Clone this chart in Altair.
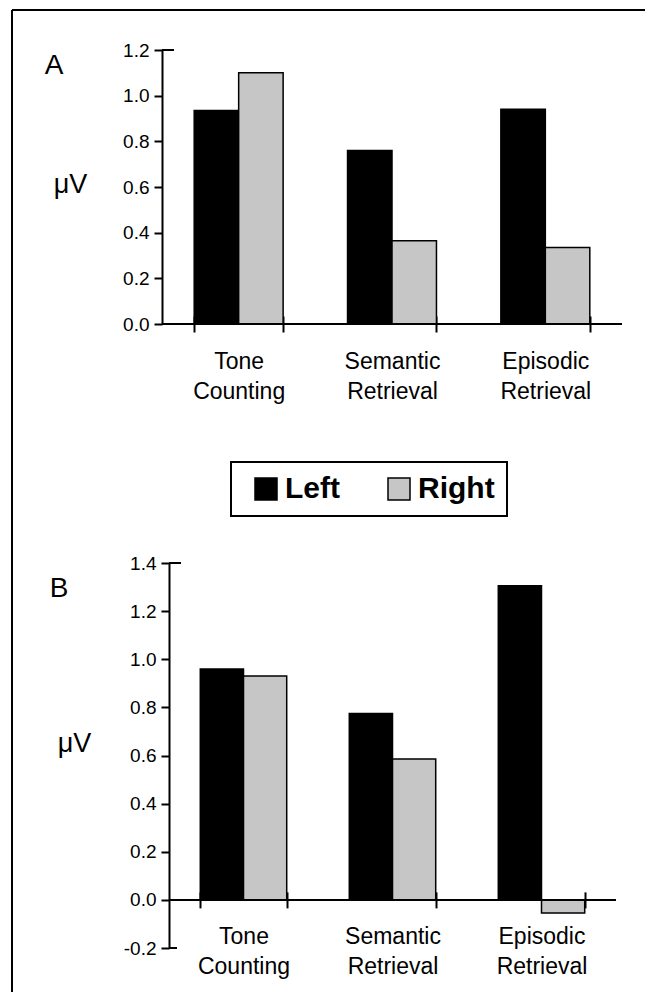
import altair as alt
import pandas as pd

# ---- data ----
categories = ["Tone Counting", "Semantic Retrieval", "Episodic Retrieval"]
sides = ["Left", "Right"]
a_left = [0.935, 0.76, 0.94]
a_right = [1.10, 0.365, 0.335]
b_left = [0.96, 0.775, 1.305]
b_right = [0.93, 0.585, -0.055]
a_ticks = [0.0, 0.2, 0.4, 0.6, 0.8, 1.0, 1.2]
b_ticks = [-0.2, 0.0, 0.2, 0.4, 0.6, 0.8, 1.0, 1.2, 1.4]
panel_letters = ["A", "B"]
y_unit = "\u03bcV"


def frame(left, right):
    rows = []
    for c, l, r in zip(categories, left, right):
        rows.append({"cat": c, "side": sides[0], "value": l})
        rows.append({"cat": c, "side": sides[1], "value": r})
    return pd.DataFrame(rows)


W, H = 637, 984
FONT = "Liberation Sans"
one = pd.DataFrame({"d": [0]})

legend = alt.Legend(
    title=None, orient="none", legendX=223, legendY=454, direction="horizontal",
    symbolType="square", symbolSize=484, symbolStrokeColor="black", symbolStrokeWidth=1.5,
    symbolOffset=8, labelFont=FONT, labelFontSize=30, labelFontWeight="bold",
    labelColor="black", labelOffset=4, columnPadding=36, padding=12, strokeColor="black",
)
color = alt.Color("side:N", scale=alt.Scale(domain=sides, range=["#000000", "#c6c6c6"]),
                  legend=legend)


def panel(df, x0, x1, y_top, y_bot, dom, ticks, title_x, title_y, extra_ticks):
    zero_y = y_bot - (0 - dom[0]) / (dom[1] - dom[0]) * (y_bot - y_top)
    x = alt.X(
        "cat:N", sort=categories,
        scale=alt.Scale(range=[x0, x1], paddingInner=0.42, paddingOuter=0.21),
        axis=alt.Axis(orient="bottom", offset=(zero_y - 8) - H, domain=False,
                      tickBand="extent", tickSize=16, tickWidth=2, tickColor="black",
                      labelExpr="split(datum.label, ' ')", labelFont=FONT, labelFontSize=23,
                      labelLineHeight=30, labelPadding=18, labelColor="black", labelAngle=0,
                      labelOverlap=False, title=None),
    )
    y = alt.Y(
        "value:Q",
        scale=alt.Scale(domain=dom, range=[y_bot, y_top], nice=False, zero=False),
        axis=alt.Axis(orient="left", offset=-x0, values=ticks,
                      labelExpr="replace(format(datum.value, '.1f'), '\u2212', '-')",
                      tickSize=8, tickWidth=2, tickColor="black", domainWidth=2,
                      domainColor="black", labelFont=FONT, labelFontSize=19,
                      labelColor="black", labelPadding=5, grid=False,
                      title=y_unit, titleAngle=0, titleFont=FONT, titleFontSize=27,
                      titleFontWeight="normal", titleColor="black", titleX=title_x,
                      titleY=title_y, titleAlign="center", titleBaseline="middle"),
    )
    bars = alt.Chart(df).mark_bar(stroke="black", strokeWidth=1.5).encode(
        x=x, y=y, color=color, xOffset=alt.XOffset("side:N", sort=sides)
    )
    layers = [bars]
    layers.append(
        alt.Chart(one).mark_rule(color="black", strokeWidth=2).encode(
            y=alt.datum(0), x=alt.value(x0), x2=alt.value(x1)
        )
    )
    for v, a, b in extra_ticks:
        layers.append(
            alt.Chart(one).mark_rule(color="black", strokeWidth=2).encode(
                y=alt.datum(v), x=alt.value(a), x2=alt.value(b)
            )
        )
    return alt.layer(*layers)


panel_a = panel(frame(a_left, a_right), 154, 614, 42, 316, [0.0, 1.2], a_ticks,
                -92, 176, [(1.2, 154, 166)])
panel_b = panel(frame(b_left, b_right), 161, 608, 555, 940, [-0.2, 1.4], b_ticks,
                -95, 735, [(1.4, 161, 173), (-0.2, 161, 169)])

border_top = alt.Chart(one).mark_rule(color="black", strokeWidth=2).encode(
    x=alt.value(4), x2=alt.value(W), y=alt.value(2)
)
border_left = alt.Chart(one).mark_rule(color="black", strokeWidth=2).encode(
    x=alt.value(4), y=alt.value(2), y2=alt.value(H)
)
letter_a = alt.Chart(one).mark_text(text=panel_letters[0], font=FONT, fontSize=28,
                                    color="black").encode(x=alt.value(46), y=alt.value(58))
letter_b = alt.Chart(one).mark_text(text=panel_letters[1], font=FONT, fontSize=28,
                                    color="black").encode(x=alt.value(51), y=alt.value(581))

chart = alt.layer(
    border_top, border_left, panel_a, panel_b, letter_a, letter_b
).resolve_scale(
    x="independent", y="independent", xOffset="independent"
).properties(
    width=W, height=H, autosize="none", padding=0, background="white"
).configure_view(stroke=None).configure_legend(strokeWidth=2)

chart.save("out.html", embed_options={"renderer": "svg", "actions": False})
